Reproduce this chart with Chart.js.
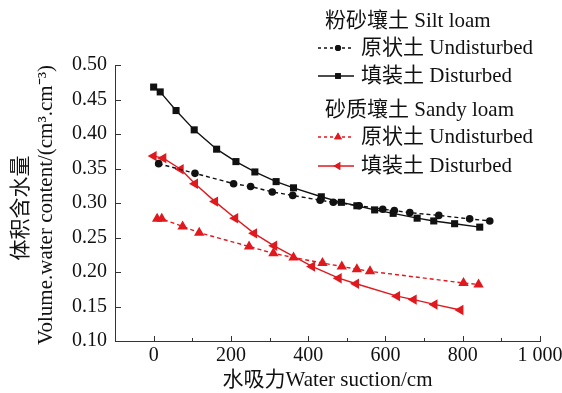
<!DOCTYPE html>
<html><head><meta charset="utf-8">
<script src="https://cdn.jsdelivr.net/npm/chart.js@4.4.0/dist/chart.umd.min.js"></script>
<style>html,body{margin:0;padding:0;background:#fff}</style>
</head><body>
<canvas id="c" width="562" height="393"></canvas>
<script>
// ---- data ----
const siltDisturbedX = [0, 17, 58, 105, 163, 213, 262, 317, 362, 434, 486, 526, 572, 620, 682, 725, 779, 844];
const siltDisturbedY = [0.468, 0.461, 0.434, 0.406, 0.378, 0.360, 0.345, 0.331, 0.322, 0.309, 0.301, 0.296, 0.290, 0.285, 0.278, 0.274, 0.270, 0.265];
const siltUndisturbedX = [13, 107, 207, 251, 307, 360, 431, 465, 532, 593, 623, 663, 738, 818, 870];
const siltUndisturbedY = [0.357, 0.343, 0.328, 0.324, 0.316, 0.311, 0.304, 0.301, 0.296, 0.291, 0.289, 0.286, 0.282, 0.277, 0.274];
const sandyUndisturbedX = [9, 21, 75, 118, 247, 310, 362, 437, 487, 526, 560, 802, 841];
const sandyUndisturbedY = [0.277, 0.277, 0.266, 0.257, 0.237, 0.227, 0.221, 0.213, 0.208, 0.204, 0.201, 0.184, 0.182];
const sandyDisturbedX = [0, 25, 70, 107, 159, 211, 260, 312, 410, 479, 524, 630, 673, 727, 794];
const sandyDisturbedY = [0.368, 0.365, 0.349, 0.328, 0.302, 0.278, 0.256, 0.238, 0.208, 0.191, 0.183, 0.165, 0.160, 0.153, 0.145];

const xTickValues = [0, 200, 400, 600, 800, 1000];
const xTickLabels = ['0', '200', '400', '600', '800', '1 000'];
const xMinorValues = [100, 300, 500, 700, 900];
const yTickValues = [0.10, 0.15, 0.20, 0.25, 0.30, 0.35, 0.40, 0.45, 0.50];

const legendHead1 = '粉砂壤土 Silt loam';
const legendHead2 = '砂质壤土 Sandy loam';
const legendUnd = '原状土 Undisturbed';
const legendDist = '填装土 Disturbed';
const xTitle = '水吸力Water suction/cm';
const yTitleCn = '体积含水量';
const yTitleEn = 'Volume.water content/(cm³.cm⁻³)';

const RED = '#e0191e';
const BLACK = '#111';
const FONT = '"Liberation Serif", "Noto Sans CJK SC", serif';

const pts = (xs, ys) => xs.map((x, i) => ({x, y: ys[i]}));

const decor = {
  id: 'decor',
  afterDraw(chart) {
    const ctx = chart.ctx;
    const xs = chart.scales.x, ys = chart.scales.y;
    const ca = chart.chartArea;
    ctx.save();
    ctx.strokeStyle = '#333';
    ctx.lineWidth = 1;
    // inward ticks
    ctx.beginPath();
    yTickValues.forEach(v => {
      const py = Math.round(ys.getPixelForValue(v)) + 0.5;
      ctx.moveTo(ca.left, py); ctx.lineTo(ca.left + 6, py);
    });
    xTickValues.forEach(v => {
      const px = Math.round(xs.getPixelForValue(v)) + 0.5;
      ctx.moveTo(px, ca.bottom); ctx.lineTo(px, ca.bottom - 5);
    });
    xMinorValues.forEach(v => {
      const px = Math.round(xs.getPixelForValue(v)) + 0.5;
      ctx.moveTo(px, ca.bottom); ctx.lineTo(px, ca.bottom - 3);
    });
    ctx.stroke();

    // titles
    ctx.fillStyle = '#111';
    ctx.font = '21px ' + FONT;
    ctx.textAlign = 'center';
    ctx.textBaseline = 'middle';
    ctx.fillText(xTitle, (ca.left + ca.right) / 2, 380);
    ctx.save();
    ctx.translate(21, 208); ctx.rotate(-Math.PI / 2);
    ctx.fillText(yTitleCn, 0, 0);
    ctx.restore();
    ctx.save();
    ctx.translate(46, (ca.top + ca.bottom) / 2 + 2); ctx.rotate(-Math.PI / 2);
    ctx.fillText(yTitleEn, 0, 0);
    ctx.restore();

    // legend
    ctx.textAlign = 'left';
    ctx.fillText(legendHead1, 325, 21);
    ctx.fillText(legendHead2, 325, 110);
    const rows = [
      {y: 48, color: BLACK, dash: [3, 3], style: 'circle', r: 3, rot: 0},
      {y: 76, color: BLACK, dash: [], style: 'rect', r: 4, rot: 0},
      {y: 137, color: RED, dash: [3, 3], style: 'triangle', r: 4.5, rot: 0},
      {y: 166, color: RED, dash: [], style: 'triangle', r: 4.5, rot: -90}
    ];
    const texts = [legendUnd, legendDist, legendUnd, legendDist];
    rows.forEach((r, i) => {
      ctx.save();
      ctx.strokeStyle = r.color; ctx.lineWidth = 1.3;
      ctx.setLineDash(r.dash);
      ctx.beginPath(); ctx.moveTo(318, r.y); ctx.lineTo(354, r.y); ctx.stroke();
      ctx.setLineDash([]);
      ctx.fillStyle = r.color;
      Chart.helpers.drawPoint(ctx, {pointStyle: r.style, radius: r.r, rotation: r.rot, borderWidth: 0}, 338, r.y);
      ctx.fill();
      ctx.restore();
      ctx.fillStyle = '#111';
      ctx.fillText(texts[i], 361, r.y);
    });
    ctx.restore();
  }
};

new Chart(document.getElementById('c'), {
  type: 'scatter',
  data: {
    datasets: [
      {label: 'silt undisturbed', data: pts(siltUndisturbedX, siltUndisturbedY), showLine: true,
       borderColor: BLACK, backgroundColor: BLACK, borderWidth: 1.4, borderDash: [4, 3],
       pointStyle: 'circle', pointRadius: 3.8, pointBorderWidth: 0},
      {label: 'silt disturbed', data: pts(siltDisturbedX, siltDisturbedY), showLine: true,
       borderColor: BLACK, backgroundColor: BLACK, borderWidth: 1.4,
       pointStyle: 'rect', pointRadius: 5, pointBorderWidth: 0},
      {label: 'sandy undisturbed', data: pts(sandyUndisturbedX, sandyUndisturbedY), showLine: true,
       borderColor: RED, backgroundColor: RED, borderWidth: 1.4, borderDash: [4, 3],
       pointStyle: 'triangle', pointRadius: 6, pointBorderWidth: 0},
      {label: 'sandy disturbed', data: pts(sandyDisturbedX, sandyDisturbedY), showLine: true,
       borderColor: RED, backgroundColor: RED, borderWidth: 1.4,
       pointStyle: 'triangle', pointRotation: -90, pointRadius: 6, pointBorderWidth: 0}
    ]
  },
  options: {
    responsive: false,
    animation: false,
    devicePixelRatio: 1,
    layout: {padding: {top: 65, right: 22, left: 0, bottom: 0}},
    plugins: {legend: {display: false}, tooltip: {enabled: false}},
    elements: {line: {tension: 0}},
    scales: {
      x: {
        type: 'linear', min: -100, max: 1000,
        grid: {display: false, drawTicks: false},
        border: {display: true, color: '#333', width: 1},
        afterBuildTicks: s => { s.ticks = xTickValues.map(v => ({value: v})); },
        afterFit: s => { s.height = 52; s.paddingLeft = 0; s.paddingRight = 0; },
        ticks: {font: {family: FONT, size: 20}, color: '#111', padding: 3, maxRotation: 0, autoSkip: false,
          callback: v => xTickLabels[xTickValues.indexOf(v)]}
      },
      y: {
        type: 'linear', min: 0.10, max: 0.50,
        grid: {display: false, drawTicks: false},
        border: {display: true, color: '#333', width: 1},
        afterBuildTicks: s => { s.ticks = yTickValues.map(v => ({value: v})); },
        afterFit: s => { s.width = 115; },
        ticks: {font: {family: FONT, size: 20}, color: '#111', padding: 8,
          callback: v => v.toFixed(2)}
      }
    }
  },
  plugins: [decor]
});
</script>
</body></html>
